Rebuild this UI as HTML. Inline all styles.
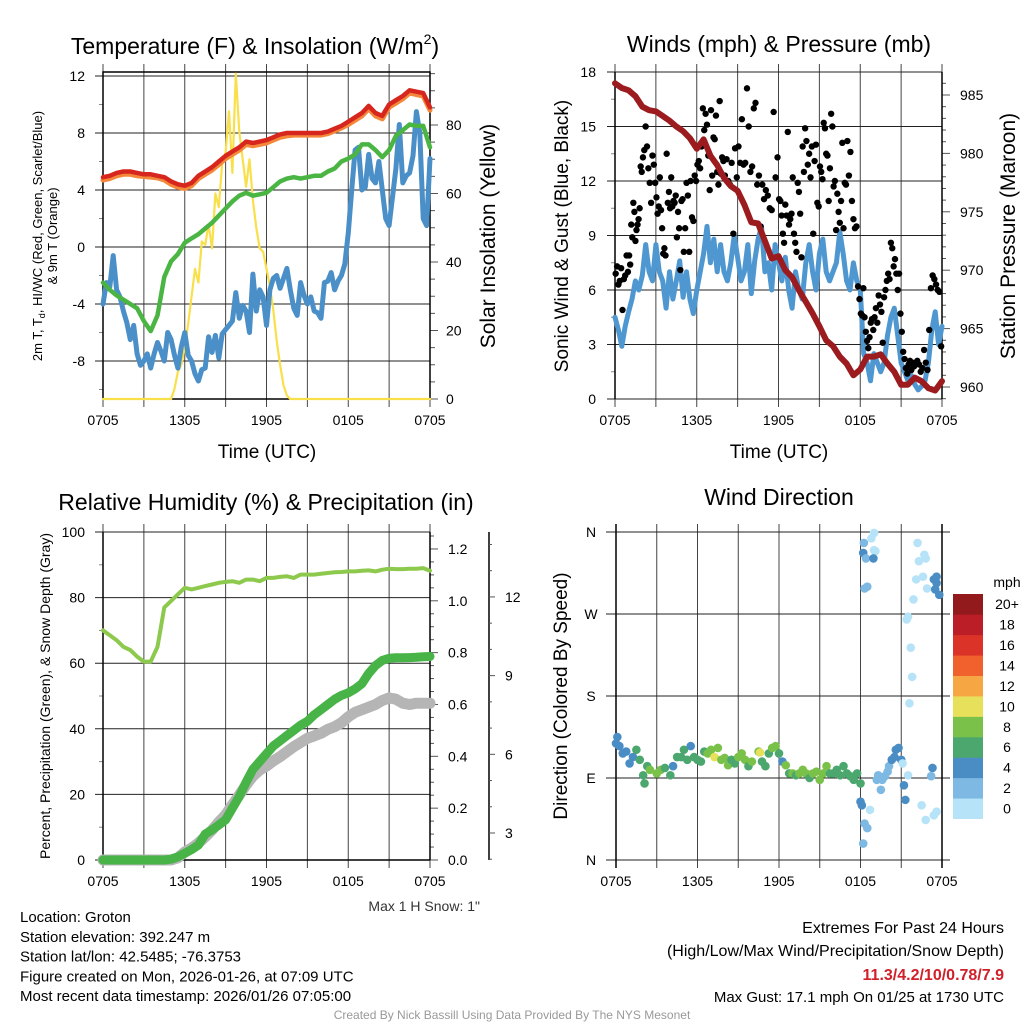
<!DOCTYPE html>
<html><head><meta charset="utf-8">
<style>
html,body{margin:0;padding:0;background:#fff;}
svg{display:block;font-family:"Liberation Sans",sans-serif;}
</style></head>
<body>
<svg id="chart" width="1024" height="1024" viewBox="0 0 1024 1024" xmlns="http://www.w3.org/2000/svg"></svg>
<script>
// ---------------- DATA ----------------
const tempRed = [4.9,5.0,5.2,5.3,5.3,5.2,5.1,5.1,5.0,4.9,4.6,4.4,4.3,4.5,5.0,5.3,5.6,6.0,6.4,6.7,7.0,7.4,7.3,7.4,7.5,7.7,7.9,8.0,8.0,8.0,8.0,8.0,8.0,8.1,8.3,8.5,8.8,9.1,9.4,9.9,9.4,9.2,10.0,10.3,10.6,11.0,10.9,10.8,9.8];
const temp9m = [4.7,4.8,5.0,5.1,5.1,5.0,4.95,4.9,4.85,4.7,4.4,4.2,4.1,4.3,4.8,5.1,5.4,5.8,6.2,6.5,6.8,7.2,7.1,7.2,7.3,7.5,7.7,7.8,7.85,7.85,7.85,7.85,7.85,7.95,8.15,8.35,8.6,8.9,9.2,9.7,9.2,9.0,9.8,10.1,10.4,10.8,10.7,10.6,9.6];
const dewGreen = [-2.5,-3.0,-3.4,-3.7,-4.0,-4.3,-5.2,-5.9,-4.8,-2.1,-1.0,-0.5,0.3,0.6,0.9,1.3,1.7,2.2,2.7,3.2,3.6,3.8,3.6,3.7,3.8,4.2,4.6,4.8,4.9,4.8,4.9,5.0,5.0,5.3,5.5,6.0,6.2,6.5,7.2,7.2,6.8,6.3,6.8,7.8,8.2,8.6,8.5,8.5,7.0];
const windChillBlue = [-4.0,-2.5,-2.8,-0.6,-3.0,-3.5,-4.5,-5.3,-6.5,-5.5,-7.5,-8.3,-8.0,-7.5,-8.5,-7.5,-6.7,-7.3,-8.0,-6.0,-6.5,-7.6,-8.5,-7.0,-6.0,-7.6,-8.0,-8.9,-9.4,-8.6,-8.5,-6.3,-7.4,-6.2,-7.8,-6.1,-5.8,-5.5,-5.2,-3.2,-5.0,-4.1,-4.5,-6.0,-1.9,-4.5,-3.0,-3.5,-5.5,-3.0,-2.2,-2.0,-2.9,-2.2,-1.5,-3.0,-4.3,-4.8,-2.5,-3.4,-4.0,-3.5,-4.5,-4.6,-5.0,-2.5,-2.4,-1.8,-3.0,-2.4,-2.0,-1.2,1.0,4.0,6.8,7.0,4.0,4.2,6.5,4.8,4.5,6.0,4.0,2.0,1.5,3.5,5.5,8.6,4.5,5.0,5.2,6.4,9.5,8.0,2.0,1.5,6.2];
const solar = [0,0,0,0,0,0,0,0,0,0,0,0,0,0,0,0,0,0,0,0,0,3,8,10,15,22,30,38,34,46,45,51,44,60,56,69,72,84,66,95,78,70,62,70,58,50,44,43,38,33,26,17,10,4,1,0,0,0,0,0,0,0,0,0,0,0,0,0,0,0,0,0,0,0,0,0,0,0,0,0,0,0,0,0,0,0,0,0,0,0,0,0,0,0,0,0,0];
const tempTicks = [-8,-4,0,4,8,12];
const solarTicks = [0,20,40,60,80];
const timeLabels = ["0705","1305","1905","0105","0705"];

const windBlue = [4.5,3.8,2.9,4.0,4.8,5.5,6.5,6.0,6.8,8.5,7.0,6.5,8.5,7.0,6.5,5.0,7.0,5.5,6.5,7.6,5.6,7.0,5.5,4.7,6.0,7.0,8.0,9.5,7.5,8.8,7.0,8.5,7.0,6.5,7.5,9.0,7.8,6.5,7.0,8.5,5.8,7.6,8.8,9.5,7.0,7.5,6.0,8.5,7.5,6.5,7.8,6.0,5.0,7.0,6.0,5.5,7.5,8.5,7.0,6.0,8.0,8.8,7.0,6.5,7.0,7.5,9.2,8.0,6.5,6.0,7.5,6.5,6.0,2.5,2.0,1.0,2.5,2.0,1.5,2.0,3.5,4.5,5.0,3.5,2.0,1.5,1.0,1.3,0.8,0.5,0.7,1.0,2.0,3.8,4.8,3.0,4.0];
const pressure = [986.0,985.6,985.4,984.9,984.0,983.7,983.6,983.2,982.8,982.3,981.9,981.3,980.4,981.2,979.8,979.0,977.9,977.2,976.8,975.6,974.1,974.0,972.5,971.0,971.2,970.0,969.4,968.3,967.3,966.3,965.2,964.0,963.5,962.6,962.0,961.0,961.5,962.6,962.6,962.8,962.0,961.3,960.2,960.2,960.8,960.5,959.9,959.7,960.5];
const gustBins = [
 [6.9,7.3,6.3,6.5,7.2,4.9,6.6,6.8,7.9,7.0],
 [7.9,7.4,9.6,8.9,10.8,10.3,8.7,9.3,9.6,9.9,10.5,12.8,12.5],
 [13.3,13.7,15.0,13.9,12.7,11.9,10.8,13.4,12.9,11.9],
 [11.1,10.2,10.6,12.2,10.4,9.4,8.0,8.3,7.9,13.5,10.8,11.4],
 [10.5,12.2,10.6,10.9,10.8,11.2,8.9,10.3,9.4,7.1,10.9,11.0],
 [8.1,9.4,11.9,11.2,8.1,12.0,10.0,9.8,12.3,12.0],
 [12.9,13.1,12.7,13.9,16.0,14.8,15.7,15.1,13.4,11.5],
 [15.9,12.3,14.4,14.3,15.6,12.5,11.8,16.4,12.4,13.3,13.1],
 [12.3,13.2,12.0,11.8,13.0,9.1,13.8,12.2],
 [13.9,13.0,15.4,12.9,13.0,17.1,15.0,12.5],
 [12.8,16.0,16.3,11.8,12.3,9.5,11.8,11.0],
 [11.5,11.2,10.5,10.4,15.8,12.2,13.3],
 [11.0,10.9,10.1,9.1,8.6,10.7,10.1,14.7,9.6,9.9,10.2],
 [12.2,9.1,8.6,8.1,11.9,11.4,10.2,7.8,13.9,12.5,14.9],
 [14.2,12.9,13.5,12.2,13.9,9.1,13.1,14.0,10.8,10.6],
 [12.8,12.5,12.1,15.2,14.9,13.5,13.4,10.9,12.7,15.7,15.0],
 [11.7,12.0,9.3,11.3,10.3,9.7,10.9,14.1,9.4,11.9,11.8],
 [14.2,12.3,13.6,10.9,9.9,9.4,9.5,6.2,5.5],
 [4.7,4.6,6.1,4.5,3.7,3.2,2.8,3.4,4.2,4.4,3.8],
 [4.5,5.0,4.2,5.7,5.2,4.8,3.1,5.6,6.0,6.5],
 [6.9,6.6,8.6,8.3,7.3,7.7,6.9,6.0,6.9,4.7],
 [3.7,2.6,2.2,1.7,1.4,1.9,2.1,1.6,2.0,1.8],
 [2.0,2.1,1.9,1.5,1.7,2.7,2.0,1.6],
 [3.8,6.1,6.8,6.6,6.3,6.0,5.9,2.9]
];
const windTicks = [0,3,6,9,12,15,18];
const pressTicks = [960,965,970,975,980,985];

const rh = [70,68.5,67,65,64,62,60.5,60.5,65,77,79,81,83,82.5,83,83.5,84,84.5,84.8,85,84.5,85.5,85.5,85,86,86,86.3,86.5,86,87,87,87,87.3,87.5,87.7,87.8,88,88,88.2,88.3,88,88.5,88.8,88.7,88.7,88.8,88.8,89,88.2];
const precip = [0,0,0,0,0,0,0,0,0,0,0.003,0.012,0.026,0.04,0.058,0.10,0.116,0.135,0.155,0.20,0.245,0.30,0.35,0.38,0.41,0.44,0.46,0.48,0.50,0.52,0.535,0.56,0.58,0.60,0.62,0.635,0.645,0.66,0.68,0.72,0.75,0.77,0.778,0.78,0.78,0.781,0.782,0.784,0.785];
const snowDepth = [1.97,1.97,1.97,1.97,1.97,1.97,1.97,1.97,1.97,1.97,1.97,2.05,2.28,2.43,2.62,2.85,3.11,3.42,3.69,4.07,4.45,4.83,5.17,5.4,5.55,5.75,5.91,6.1,6.29,6.45,6.61,6.7,6.8,6.95,7.05,7.2,7.43,7.6,7.7,7.8,7.9,8.05,8.15,8.1,7.95,7.9,7.95,7.95,7.95];
const rhTicks = [0,20,40,60,80,100];
const precipTicks = [0,0.2,0.4,0.6,0.8,1.0,1.2];
const snowTicks = [3,6,9,12];

const dirHours = [0,0.1,0.25,0.5,0.75,1,1.25,1.5,1.75,2,2.1,2.3,2.5,3,3.3,3.6,4,4.2,4.5,4.8,5,5.25,5.5,5.75,6,6.25,6.5,6.75,7,7.25,7.5,7.75,8,8.25,8.5,8.75,9,9.25,9.5,9.75,10,10.5,10.6,10.75,11,11.25,11.5,11.75,12,12.25,12.5,12.75,13,13.25,13.5,13.75,14,14.25,14.5,14.75,15,15.25,15.5,15.75,16,16.25,16.5,16.75,17,17.25,17.5,17.75,18,
 18.0,18.1,18.2,18.3,18.5,18.25,18.2,18.4,18.5,18.3,18.7,18.8,19,19,19.1,18.95,19.2,19.3,19.5,19.6,19.8,20,20.1,20.3,20.5,20.6,20.8,21,21.1,21.2,21.3,21.5,21.4,21.5,21.7,21.8,21.6,21.9,22.1,22.2,22.3,22.6,22.5,22.8,23.4,23.6,22.7,22.8,22.9,23.3,23.2,23.4,23.5,23.6,23.8,23.6];
const dirDegrees = [128,135,125,117,119,106,113,121,110,93,84,103,99,95,99,101,93,103,113,113,121,110,125,113,110,108,119,117,121,113,123,110,112,104,110,106,113,117,110,103,108,119,118,108,103,117,123,125,117,108,104,95,95,93,95,99,95,90,95,97,88,95,103,95,95,99,93,103,95,92,88,95,84,
 64,60,18,40,35,348,337,331,300,298,55,353,359,340,339,331,88,93,77,88,92,97,103,110,113,121,123,110,106,82,66,93,264,267,233,201,172,286,308,348,328,311,60,44,49,53,335,331,298,101,92,308,297,311,291,304];
const dirSpeeds = [4,4,4,4,4,4,5,6,6,6,6,7,8,8,8,6,6,4,7,7,6,6,4,6,6,6,6,8,8,10,8,8,8,8,6,7,8,8,8,6,8,8,10,6,6,6,8,8,6,4,8,6,8,6,8,8,8,6,8,8,8,8,8,6,6,6,6,6,6,6,6,6,6,
 4,4,2,2,2,2,4,2,2,2,0,0,0,0,0,4,2,2,2,2,2,2,2,4,4,4,4,4,0,4,4,0,0,0,0,0,0,0,0,0,0,0,0,0,0,0,0,0,0,4,2,4,4,4,4,4];
const speedColors = ["#b7e3f8","#7db9e3","#4a8dc5","#4ca76f","#7ac14a","#e6e05a","#f6a744","#f0612d","#db3328","#bb1e26","#921a1d"];
const speedLabels = ["0","2","4","6","8","10","12","14","16","18","20+"];
const dirLabels = ["N","E","S","W","N"];
const dirTicks = [0,90,180,270,360];

// ---------------- DRAWING ----------------
const NS = "http://www.w3.org/2000/svg";
const svg = document.getElementById("chart");
function mk(tag, attrs, parent) {
  const e = document.createElementNS(NS, tag);
  for (const k in attrs) e.setAttribute(k, attrs[k]);
  (parent || svg).appendChild(e);
  return e;
}
function txt(str, x, y, size, anchor, parent, extra) {
  const t = mk("text", Object.assign({x:x, y:y, "font-size":size, "text-anchor":anchor||"middle", fill:"#000"}, extra||{}), parent);
  t.textContent = str;
  return t;
}
function group(name) {
  const g = mk("g", {});
  
  
  return g;
}
function xs(P, h) { return P.L + h / 24 * (P.R - P.L); }
function polyline(P, vals, step, yfn, stroke, width, parent, name) {
  let d = "";
  vals.forEach((v, i) => { d += (i ? "L" : "M") + xs(P, i * step).toFixed(1) + "," + yfn(v).toFixed(1); });
  const p = mk("path", {d:d, fill:"none", stroke:stroke, "stroke-width":width, "stroke-linejoin":"round", "stroke-linecap":"round"}, parent);
  
  
  return p;
}
function vgrid(P, g) {
  for (let i = 0; i <= 8; i++) {
    const x = xs(P, i * 3);
    mk("line", {x1:x, x2:x, y1:P.T - 8, y2:P.B + 8, stroke:"#444", "stroke-width":1}, g);
  }
  timeLabels.forEach((s, i) => {
    const t = txt(s, xs(P, i * 6), P.B + 26, 14, "middle", g);
    
    
  });
}

// ===== Panel 1 =====
const P1 = {L:103, R:430, T:72, B:399};
const yT = v => 247 - v * 14.25;
const yS = v => 399 - v * 3.425;
const g1 = group("temperature-panel");
const t1 = txt("Temperature (F) & Insolation (W/m", 255, 54, 23, "middle", g1);
const sup = mk("tspan", {"font-size":14, dy:-10}, t1); sup.textContent = "2";
const cl = mk("tspan", {dy:10}, t1); cl.textContent = ")";


vgrid(P1, g1);
tempTicks.forEach(v => {
  mk("line", {x1:P1.L - 8, x2:P1.R, y1:yT(v), y2:yT(v), stroke:"#222", "stroke-width":1}, g1);
  const t = txt(String(v), 85, yT(v) + 5, 14, "end", g1);
  
  
});
for (let v = -10; v <= 12; v += 2) if (v % 4 !== 0) mk("line", {x1:P1.L - 4, x2:P1.L, y1:yT(v), y2:yT(v), stroke:"#888"}, g1);
for (let v = 0; v <= 95; v += 5) mk("line", {x1:P1.R, x2:P1.R + (v % 20 === 0 ? 8 : 5), y1:yS(v), y2:yS(v), stroke:"#555"}, g1);
solarTicks.forEach(v => {
  const t = txt(String(v), 446, yS(v) + 5, 14, "start", g1);
  
  
});
mk("rect", {x:P1.L, y:P1.T, width:P1.R - P1.L, height:P1.B - P1.T, fill:"none", stroke:"#000", "stroke-width":1.5}, g1);
polyline(P1, solar, 0.25, yS, "#f9e04b", 2.2, g1, "solar-insolation-line");
polyline(P1, windChillBlue, 0.25, yT, "#4a8fc8", 5, g1, "windchill-line");
polyline(P1, dewGreen, 0.5, yT, "#4bb544", 4.5, g1, "dewpoint-line");
polyline(P1, temp9m, 0.5, yT, "#f4883a", 5, g1, "temp-9m-line");
polyline(P1, tempRed, 0.5, yT, "#d7261e", 4.5, g1, "temp-2m-line");
let a1 = txt("2m T, T", 0, 0, 13, "middle", g1, {transform:"translate(42,236) rotate(-90)"});
let sb = mk("tspan", {"font-size":9, dy:3}, a1); sb.textContent = "d";
let rs = mk("tspan", {dy:-3}, a1); rs.textContent = ", HI/WC (Red, Green, Scarlet/Blue)";


const a1b = txt("& 9m T (Orange)", 0, 0, 13, "middle", g1, {transform:"translate(57,236) rotate(-90)"});


const a1r = txt("Solar Insolation (Yellow)", 0, 0, 21, "middle", g1, {transform:"translate(495,236) rotate(-90)"});


const x1 = txt("Time (UTC)", 267, 458, 19, "middle", g1);



// ===== Panel 2 =====
const P2 = {L:615, R:942, T:72, B:399};
const yW = v => 399 - v * 327 / 18;
const yP = v => 387 - (v - 960) * 11.68;
const g2 = group("winds-panel");
const t2 = txt("Winds (mph) & Pressure (mb)", 779, 52, 23, "middle", g2);


vgrid(P2, g2);
windTicks.forEach(v => {
  mk("line", {x1:P2.L - 8, x2:P2.R, y1:yW(v), y2:yW(v), stroke:"#222"}, g2);
  const t = txt(String(v), 596, yW(v) + 5, 14, "end", g2);
  
  
});
for (let v = 1.5; v < 18; v += 3) mk("line", {x1:P2.L - 4, x2:P2.L, y1:yW(v), y2:yW(v), stroke:"#888"}, g2);
for (let p = 959; p <= 986; p++) mk("line", {x1:P2.R, x2:P2.R + (p % 5 === 0 ? 8 : 4), y1:yP(p), y2:yP(p), stroke:"#555"}, g2);
pressTicks.forEach(v => {
  const t = txt(String(v), 960, yP(v) + 5, 14, "start", g2);
  
  
});
mk("line", {x1:P2.L, x2:P2.L, y1:P2.T, y2:P2.B, stroke:"#000", "stroke-width":1.5}, g2);
mk("line", {x1:P2.R, x2:P2.R, y1:P2.T, y2:P2.B, stroke:"#000", "stroke-width":1.5}, g2);
polyline(P2, windBlue, 0.25, yW, "#4f97d0", 5, g2, "sonic-wind-line");
gustBins.forEach((bin, h) => {
  bin.forEach((v, j) => {
    const c = mk("circle", {cx:xs(P2, h + (j + 0.5) / bin.length), cy:yW(v), r:3.2, fill:"#000"}, g2);
    
    
  });
});
polyline(P2, pressure, 0.5, yP, "#9b1b1e", 6, g2, "pressure-line");
const a2 = txt("Sonic Wind & Gust (Blue, Black)", 0, 0, 19, "middle", g2, {transform:"translate(568,236) rotate(-90)"});


const a2r = txt("Station Pressure (Maroon)", 0, 0, 21, "middle", g2, {transform:"translate(1015,236) rotate(-90)"});


const x2 = txt("Time (UTC)", 779, 458, 19, "middle", g2);



// ===== Panel 3 =====
const P3 = {L:103, R:430, T:532, B:860};
const yRH = v => 860 - v * 3.28;
const yPr = v => 860 - v * 259.2;
const ySn = v => 833 - (v - 3) * 26.23;
const g3 = group("humidity-panel");
const t3 = txt("Relative Humidity (%) & Precipitation (in)", 266, 510, 23, "middle", g3);


vgrid(P3, g3);
rhTicks.forEach(v => {
  mk("line", {x1:P3.L - 8, x2:P3.R, y1:yRH(v), y2:yRH(v), stroke:"#222"}, g3);
  const t = txt(String(v), 85, yRH(v) + 5, 14, "end", g3);
  
  
});
for (let v = 10; v < 100; v += 20) mk("line", {x1:P3.L - 4, x2:P3.L, y1:yRH(v), y2:yRH(v), stroke:"#888"}, g3);
for (let p = 0; p <= 25; p++) mk("line", {x1:P3.R, x2:P3.R + (p % 4 === 0 ? 8 : 4), y1:yPr(p * 0.05), y2:yPr(p * 0.05), stroke:"#555"}, g3);
precipTicks.forEach(v => {
  const t = txt(v.toFixed(1), 448, yPr(v) + 5, 14, "start", g3);
  
  
});
mk("line", {x1:489, x2:489, y1:P3.T, y2:P3.B, stroke:"#000", "stroke-width":1.5}, g3);
for (let s = 2; s <= 14; s++) mk("line", {x1:489, x2:489 + (s % 3 === 0 ? 6 : 3), y1:ySn(s), y2:ySn(s), stroke:"#555"}, g3);
snowTicks.forEach(v => {
  const t = txt(String(v), 505, ySn(v) + 5, 14, "start", g3);
  
  
});
mk("line", {x1:P3.L, x2:P3.L, y1:P3.T, y2:P3.B, stroke:"#000", "stroke-width":1.5}, g3);
mk("line", {x1:P3.R, x2:P3.R, y1:P3.T, y2:P3.B, stroke:"#000", "stroke-width":1.5}, g3);
mk("line", {x1:P3.L, x2:P3.R, y1:P3.B, y2:P3.B, stroke:"#000", "stroke-width":1.5}, g3);
polyline(P3, snowDepth, 0.5, ySn, "#b5b5b5", 11, g3, "snow-depth-line");
polyline(P3, precip, 0.5, yPr, "#48b347", 9, g3, "precipitation-line");
polyline(P3, rh, 0.5, yRH, "#8dc94c", 4, g3, "relative-humidity-line");
const a3 = txt("Percent, Precipitation (Green), & Snow Depth (Gray)", 0, 0, 14, "middle", g3, {transform:"translate(50,696) rotate(-90)"});


const ms = txt("Max 1 H Snow: 1\"", 480, 911, 14, "end", g3, {fill:"#333"});



// ===== Panel 4 =====
const P4 = {L:616, R:942, T:532, B:860};
const yD = d => 860 - d * 328 / 360;
const g4 = group("wind-direction-panel");
const t4 = txt("Wind Direction", 779, 505, 23, "middle", g4);


vgrid(P4, g4);
dirTicks.forEach((d, i) => {
  mk("line", {x1:606, x2:950, y1:yD(d), y2:yD(d), stroke:"#222"}, g4);
  const t = txt(dirLabels[i], 591, yD(d) + 5, 14, "middle", g4);
  
  
});
mk("line", {x1:P4.L, x2:P4.L, y1:P4.T - 8, y2:P4.B + 8, stroke:"#000", "stroke-width":1.5}, g4);
mk("line", {x1:P4.R, x2:P4.R, y1:P4.T - 8, y2:P4.B + 8, stroke:"#000", "stroke-width":1.5}, g4);
dirHours.forEach((h, i) => {
  const c = mk("circle", {cx:xs(P4, h), cy:yD(dirDegrees[i]), r:4.3, fill:speedColors[Math.min(10, Math.floor(dirSpeeds[i] / 2))]}, g4);
  
  
});
const a4 = txt("Direction (Colored By Speed)", 0, 0, 19, "middle", g4, {transform:"translate(567,696) rotate(-90)"});


const cb = group("speed-colorbar");
const mph = txt("mph", 1007, 587, 14, "middle", cb);


const binH = (818.7 - 594) / 11;
speedColors.forEach((c, i) => {
  const y = 818.7 - (i + 1) * binH;
  const r = mk("rect", {x:953, y:y, width:30, height:binH + 0.3, fill:c}, cb);
  
  
  const t = txt(speedLabels[i], 1007, y + binH / 2 + 5, 14, "middle", cb);
  
  
});

// ===== Footer text =====
const info = group("station-info");
["Location: Groton","Station elevation: 392.247 m","Station lat/lon: 42.5485; -76.3753","Figure created on Mon, 2026-01-26, at 07:09 UTC","Most recent data timestamp: 2026/01/26 07:05:00"].forEach((s, i) => {
  const t = txt(s, 20, 922 + i * 19.8, 15, "start", info);
  
  
});
const ext = group("extremes-summary");
const e1 = txt("Extremes For Past 24 Hours", 1004, 933, 16, "end", ext);


const e2 = txt("(High/Low/Max Wind/Precipitation/Snow Depth)", 1004, 956, 16, "end", ext);


const e3 = txt("11.3/4.2/10/0.78/7.9", 1004, 980, 16, "end", ext, {fill:"#d0202a", "font-weight":"bold"});


const e4 = txt("Max Gust: 17.1 mph On 01/25 at 1730 UTC", 1004, 1002, 15, "end", ext);


const cr = txt("Created By Nick Bassill Using Data Provided By The NYS Mesonet", 512, 1019, 12, "middle", svg, {fill:"#999"});


</script>
</body></html>
